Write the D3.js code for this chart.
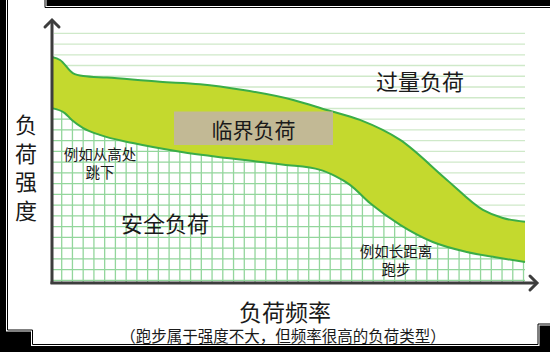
<!DOCTYPE html>
<html lang="zh">
<head>
<meta charset="UTF-8">
<script src="https://d3js.org/d3.v7.min.js"></script>
<style>
  body { margin: 0; background: #000; }
  svg { display: block; }
  text { font-family: "Noto Sans CJK SC", "Noto Sans", sans-serif; fill: #1a1a1a; }
</style>
<title>负荷强度与负荷频率</title>
</head>
<body>
<script>
// load frequency (0-100) vs load intensity (0-100)
var upperFreq = [0, 1.7, 4.4, 6.6, 11.6, 22.8, 31.3, 40.4, 51, 58.1, 65.1, 73.6, 83.5, 91.1, 95.3, 100];
var upperLoad = [85.9, 84.8, 79.8, 78.7, 78.1, 76.5, 75.6, 73.4, 69.6, 65.8, 62, 54.4, 39.2, 27.8, 24.7, 23.3];
var lowerFreq = [0, 2.7, 4.2, 6.6, 10.1, 17.1, 27.1, 37, 49, 56.7, 59.8, 63, 67.2, 73.6, 80.5, 87.7, 94.7, 100];
var lowerLoad = [66.5, 64.6, 62, 58.9, 56.3, 53.2, 49.9, 47.5, 45, 43, 40.7, 37.3, 30.4, 22.1, 15.6, 11.8, 9.5, 8];

var zoneLabels = ["过量负荷", "临界负荷", "安全负荷"];
var exampleHigh = ["例如从高处", "跳下"];
var exampleLow = ["例如长距离", "跑步"];
var yTitle = ["负", "荷", "强", "度"];
var xTitle = "负荷频率";
var xNote = "（跑步属于强度不大，但频率很高的负荷类型）";

var W = 550, H = 352;
var svg = d3.select("body").append("svg").attr("width", W).attr("height", H);

// black page frame with white sheet
var sheet = [[7.5,-3],[45,-3],[45,7.5],[553,7.5],[553,324],[538,324],[538,344.5],[32.5,344.5],[32.5,330],[7.5,330]];
svg.append("rect").attr("width", W).attr("height", H).attr("fill", "#000");
svg.append("polygon").attr("points", sheet.join(" ")).attr("fill", "#fff").attr("stroke", "#fff").attr("stroke-width", 3);
svg.append("polygon").attr("points", sheet.join(" ")).attr("fill", "#fff").attr("stroke", "#000").attr("stroke-width", 1);

var x = d3.scaleLinear().domain([0, 100]).range([52, 525]);
var y = d3.scaleLinear().domain([0, 100]).range([283, 20]);

var upper = upperFreq.map(function(f, i){ return [f, upperLoad[i]]; });
var lower = lowerFreq.map(function(f, i){ return [f, lowerLoad[i]]; });

var step = 10.74;
var hLines = d3.range(33.3, 282, step);
var vLines = d3.range(61.7, 526, step);

// pale horizontal lines over the whole plot
svg.append("g").selectAll("line").data(hLines).join("line")
  .attr("x1", x(0) + 2).attr("x2", x(100))
  .attr("y1", function(d){ return d; }).attr("y2", function(d){ return d; })
  .attr("stroke", "#cfe9c9").attr("stroke-width", 1.3);

var curve = d3.curveMonotoneX;
var line = d3.line().x(function(d){ return x(d[0]); }).y(function(d){ return y(d[1]); }).curve(curve);
var fillDown = d3.area().x(function(d){ return x(d[0]); }).y0(y(0)).y1(function(d){ return y(d[1]); }).curve(curve);

// critical band: fill below upper curve, then safe zone painted over it
svg.append("path").attr("d", fillDown(upper)).attr("fill", "#c4d92e");

// safe zone: white with square grid
svg.append("clipPath").attr("id", "safe").append("path").attr("d", fillDown(lower));
svg.append("path").attr("d", fillDown(lower)).attr("fill", "#fff");
var grid = svg.append("g").attr("clip-path", "url(#safe)");
grid.selectAll(".h").data(hLines).join("line").attr("class", "h")
  .attr("x1", x(0)).attr("x2", x(100))
  .attr("y1", function(d){ return d; }).attr("y2", function(d){ return d; })
  .attr("stroke", "#93d69c").attr("stroke-width", 1.3);
grid.selectAll(".v").data(vLines).join("line").attr("class", "v")
  .attr("y1", y(0)).attr("y2", 20)
  .attr("x1", function(d){ return d; }).attr("x2", function(d){ return d; })
  .attr("stroke", "#93d69c").attr("stroke-width", 1.3);

svg.append("path").attr("d", line(upper)).attr("fill", "none").attr("stroke", "#3aad47").attr("stroke-width", 2);
svg.append("path").attr("d", line(lower)).attr("fill", "none").attr("stroke", "#3aad47").attr("stroke-width", 2);

// critical label box
svg.append("rect").attr("x", 174).attr("y", 111.5).attr("width", 159).attr("height", 33.5).attr("fill", "#c2b995");
svg.append("text").attr("x", 253.5).attr("y", 128.5).attr("text-anchor", "middle").attr("dominant-baseline", "central")
  .attr("font-size", 21).text(zoneLabels[1]);
svg.append("text").attr("x", 420).attr("y", 80).attr("text-anchor", "middle").attr("dominant-baseline", "central")
  .attr("font-size", 22).text(zoneLabels[0]);
svg.append("text").attr("x", 165).attr("y", 221.5).attr("text-anchor", "middle").attr("dominant-baseline", "central")
  .attr("font-size", 22).text(zoneLabels[2]);

svg.append("g").selectAll("text").data(exampleHigh).join("text")
  .attr("x", 100).attr("y", function(d, i){ return 153 + i * 18; })
  .attr("text-anchor", "middle").attr("dominant-baseline", "central").attr("font-size", 14.5)
  .text(function(d){ return d; });
svg.append("g").selectAll("text").data(exampleLow).join("text")
  .attr("x", 396).attr("y", function(d, i){ return 250 + i * 18; })
  .attr("text-anchor", "middle").attr("dominant-baseline", "central").attr("font-size", 14.5)
  .text(function(d){ return d; });

// axes with arrows
var axisC = "#3d3d3d";
svg.append("path").attr("d", "M52,284V21").attr("stroke", axisC).attr("stroke-width", 3).attr("fill", "none");
svg.append("path").attr("d", "M50.5,283H536").attr("stroke", axisC).attr("stroke-width", 3).attr("fill", "none");
svg.append("path").attr("d", "M45,27L52,20L59,27").attr("stroke", axisC).attr("stroke-width", 3).attr("fill", "none").attr("stroke-linecap", "round");
svg.append("path").attr("d", "M530,276L537,283L530,290").attr("stroke", axisC).attr("stroke-width", 3).attr("fill", "none").attr("stroke-linecap", "round");

svg.append("g").selectAll("text").data(yTitle).join("text")
  .attr("x", 26).attr("y", function(d, i){ return 123 + i * 28.5; })
  .attr("text-anchor", "middle").attr("dominant-baseline", "central").attr("font-size", 22)
  .text(function(d){ return d; });
svg.append("text").attr("x", 285).attr("y", 311).attr("text-anchor", "middle").attr("dominant-baseline", "central")
  .attr("font-size", 23).text(xTitle);
svg.append("text").attr("x", 283).attr("y", 335).attr("text-anchor", "middle").attr("dominant-baseline", "central")
  .attr("font-size", 15.5).text(xNote);
</script>
</body>
</html>
